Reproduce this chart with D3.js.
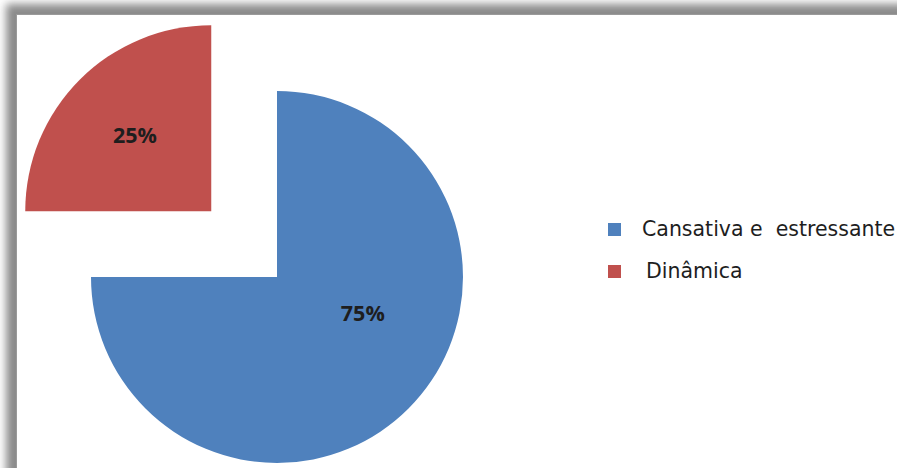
<!DOCTYPE html>
<html>
<head>
<meta charset="utf-8">
<script src="https://cdn.jsdelivr.net/npm/d3@7"></script>
<style>
  body { margin: 0; background: #fff; }
  svg { display: block; }
</style>
</head>
<body>
<svg id="chart"></svg>
<script>
// data
var categories = ["Cansativa e  estressante", "Dinâmica"];
var values = [75, 25];
var colors = ["#4F81BD", "#C0504D"];
var labels = ["75%", "25%"];

var width = 897;
var height = 468;

var svg = d3.select("svg#chart")
            .attr("width", width)
            .attr("height", height);

// frame with a soft shadow on top/left
var defs = svg.append("defs");
var blur = defs.append("filter").attr("id", "blur")
               .attr("x", "-10%").attr("y", "-10%")
               .attr("width", "120%").attr("height", "120%");
blur.append("feGaussianBlur").attr("stdDeviation", 4);

svg.append("rect")
   .attr("x", 0).attr("y", 0)
   .attr("width", width).attr("height", height)
   .attr("fill", "#fff");
svg.append("rect")
   .attr("x", 6).attr("y", 4)
   .attr("width", width + 20).attr("height", height + 20)
   .attr("fill", "#8a8a8a")
   .attr("filter", "url(#blur)");
svg.append("rect")
   .attr("x", 16.5).attr("y", 14.5)
   .attr("width", width + 20).attr("height", height + 20)
   .attr("fill", "#fff")
   .attr("stroke", "#9a9a9a")
   .attr("stroke-width", 1);

var cx = 277, cy = 277, radius = 186;
var explode = 93;   // pull-out of the second slice

var table = categories.map(function(c, i){
  return {name: c, value: values[i], color: colors[i], label: labels[i]};
});

var pie = d3.pie()
            .sort(null)
            .value(function(d){ return d.value; });
var arc = d3.arc().innerRadius(0).outerRadius(radius);

var arcs = pie(table);

var g = svg.append("g")
           .attr("transform", "translate(" + cx + "," + cy + ")");

var slices = g.selectAll("g.slice")
              .data(arcs)
              .enter()
              .append("g")
              .attr("class", "slice")
              .attr("transform", function(d, i){
                if (i === 0) return null;
                var a = (d.startAngle + d.endAngle) / 2;
                return "translate(" + (Math.sin(a) * explode) + "," + (-Math.cos(a) * explode) + ")";
              });

slices.append("path")
      .attr("d", arc)
      .attr("fill", function(d){ return d.data.color; });

// label placement (angle offset in radians, radius fraction) per slice
var labelPos = [
  {da: -0.39, r: 0.50},
  {da: 0, r: 0.58}
];

slices.append("text")
      .text(function(d){ return d.data.label; })
      .attr("x", function(d, i){
        var a = (d.startAngle + d.endAngle) / 2 + labelPos[i].da;
        return Math.sin(a) * radius * labelPos[i].r;
      })
      .attr("y", function(d, i){
        var a = (d.startAngle + d.endAngle) / 2 + labelPos[i].da;
        return -Math.cos(a) * radius * labelPos[i].r;
      })
      .attr("dy", "0.36em")
      .attr("text-anchor", "middle")
      .attr("font-family", "Open Sans")
      .attr("font-weight", "bold")
      .attr("font-size", 21.5)
      .attr("fill", "#1e1e1e");

// legend
var legend = svg.selectAll("g.legend")
                .data(table)
                .enter()
                .append("g")
                .attr("class", "legend")
                .attr("transform", function(d, i){
                  return "translate(608," + (223 + i * 42) + ")";
                });
legend.append("rect")
      .attr("width", 13)
      .attr("height", 13)
      .attr("fill", function(d){ return d.color; });
legend.append("text")
      .text(function(d){ return d.name; })
      .attr("x", function(d, i){ return i === 0 ? 34 : 38; })
      .attr("y", 13)
      .attr("xml:space", "preserve")
      .style("white-space", "pre")
      .attr("font-family", "DejaVu Sans")
      .attr("font-size", 20.5)
      .attr("fill", "#1e1e1e");
</script>
</body>
</html>
